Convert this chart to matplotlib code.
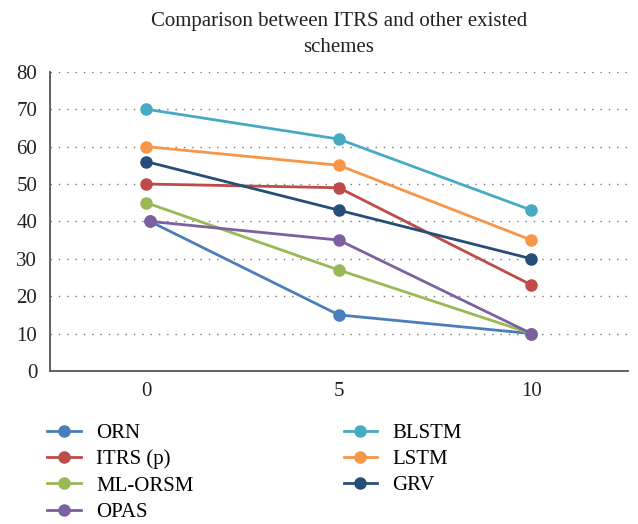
import matplotlib.pyplot as plt

plt.rcParams['font.family'] = ['Liberation Serif', 'DejaVu Serif']

x = [0, 5, 10]
x_shift = [0.1, 5, 10]
orn = [40, 15, 10]
itrs = [50, 49, 23]
ml_orsm = [45, 27, 10]
opas = [40, 35, 10]
blstm = [70, 62, 43]
lstm = [60, 55, 35]
grv = [56, 43, 30]

series = [
    ("ORN", x_shift, orn, "#4a7ebb"),
    ("ITRS (p)", x, itrs, "#be4b48"),
    ("ML-ORSM", x, ml_orsm, "#98b954"),
    ("OPAS", x_shift, opas, "#7d60a0"),
    ("BLSTM", x, blstm, "#46aac5"),
    ("LSTM", x, lstm, "#f79646"),
    ("GRV", x, grv, "#254e79"),
]

fig = plt.figure(figsize=(6.38, 5.24), dpi=100)
ax = fig.add_axes([0.078, 0.292, 0.906, 0.571])

for name, xs, ys, col in series:
    ax.plot(xs, ys, color=col, lw=2.0, marker='o', ms=8, label=name)

ax.set_xlim(-2.5, 12.5)
ax.set_ylim(0, 80)
ax.set_xticks([0, 5, 10])
ax.set_yticks(range(0, 81, 10))
ax.yaxis.grid(True, linestyle=(0, (1, 5)), color='#777777', lw=1)
ax.set_axisbelow(True)
for s in ['top', 'right']:
    ax.spines[s].set_visible(False)
ax.spines['left'].set_color('#555555')
ax.spines['bottom'].set_color('#555555')
ax.spines['left'].set_linewidth(1.3)
ax.spines['bottom'].set_linewidth(1.3)
ax.tick_params(length=0, labelsize=15, colors='#222222')
ax.tick_params(axis='x', pad=8)
ax.tick_params(axis='y', pad=9)

ax.set_title("Comparison between ITRS and other existed\nschemes", fontsize=15,
             color='#222222', pad=14, linespacing=1.55)

fig.legend(loc='upper left', bbox_to_anchor=(0.074, 0.192), ncol=2, frameon=False,
           fontsize=15, handlelength=1.6, columnspacing=7.2, labelspacing=0.32,
           handletextpad=0.75, borderaxespad=0, borderpad=0)

fig.savefig("out.png", dpi=100)
